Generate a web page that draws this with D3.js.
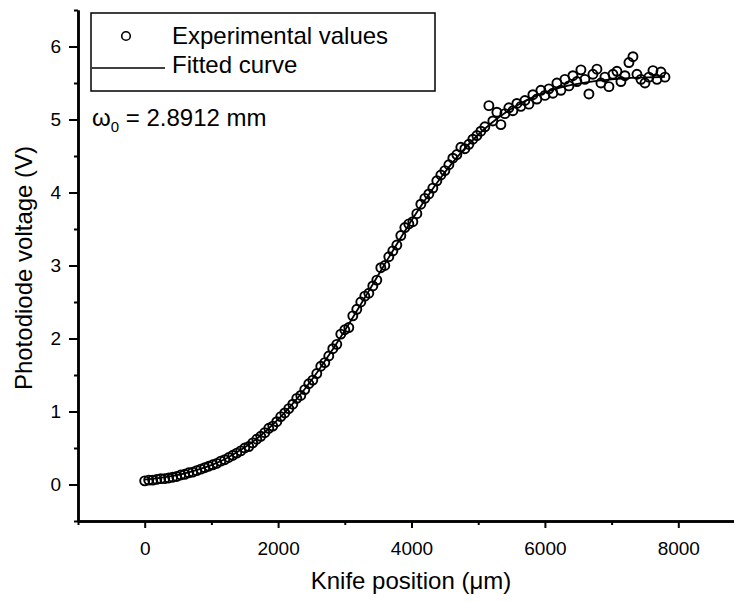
<!DOCTYPE html>
<html>
<head>
<meta charset="utf-8">
<script src="https://cdn.jsdelivr.net/npm/d3@7/dist/d3.min.js"></script>
<style>
  body { margin: 0; background: #fff; }
  svg { display: block; font-family: "Liberation Sans", Arial, sans-serif; }
</style>
</head>
<body>
<div id="chart"></div>
<script>
// ---- data ----
const xTicks = [0, 2000, 4000, 6000, 8000];
const xMinorTicks = [-1000, 1000, 3000, 5000, 7000, 9000];
const yTicks = [0, 1, 2, 3, 4, 5, 6];
const yMinorTicks = [-0.5, 0.5, 1.5, 2.5, 3.5, 4.5, 5.5, 6.5];

// experimental points: knife position (um), photodiode voltage (V)
const knifePos = [
  0, 60, 120, 180, 240, 300, 360, 420, 480, 540, 600, 660, 720, 780, 840, 900, 960, 1020, 1080, 1140,
  1200, 1260, 1320, 1380, 1440, 1500, 1560, 1620, 1680, 1740, 1800, 1860, 1920, 1980, 2040, 2100, 2160, 2220, 2280, 2340,
  2400, 2460, 2520, 2580, 2640, 2700, 2760, 2820, 2880, 2940, 3000, 3060, 3120, 3180, 3240, 3300, 3360, 3420, 3480, 3540,
  3600, 3660, 3720, 3780, 3840, 3900, 3960, 4020, 4080, 4140, 4200, 4260, 4320, 4380, 4440, 4500, 4560, 4620, 4680, 4740,
  4800, 4860, 4920, 4980, 5040, 5100, 5160, 5220, 5280, 5340, 5400, 5460, 5520, 5580, 5640, 5700, 5760, 5820, 5880, 5940,
  6000, 6060, 6120, 6180, 6240, 6300, 6360, 6420, 6480, 6540, 6600, 6660, 6720, 6780, 6840, 6900, 6960, 7020, 7080, 7140,
  7200, 7260, 7320, 7380, 7440, 7500, 7560, 7620, 7680, 7740, 7800
];
const voltage = [
  0.05, 0.06, 0.06, 0.07, 0.08, 0.08, 0.09, 0.10, 0.11, 0.13, 0.14, 0.16, 0.17, 0.19, 0.21, 0.23, 0.25, 0.27, 0.29, 0.32,
  0.34, 0.37, 0.40, 0.43, 0.46, 0.50, 0.52, 0.57, 0.62, 0.66, 0.71, 0.77, 0.80, 0.86, 0.93, 0.98, 1.04, 1.10, 1.18, 1.22,
  1.30, 1.38, 1.43, 1.52, 1.62, 1.67, 1.76, 1.86, 1.92, 2.06, 2.12, 2.15, 2.31, 2.40, 2.50, 2.58, 2.62, 2.72, 2.80, 2.97,
  3.00, 3.12, 3.20, 3.28, 3.41, 3.52, 3.57, 3.60, 3.71, 3.84, 3.92, 3.98, 4.06, 4.16, 4.24, 4.30, 4.38, 4.47, 4.52, 4.62,
  4.60, 4.66, 4.73, 4.78, 4.84, 4.90, 5.19, 4.98, 5.10, 4.93, 5.08, 5.16, 5.12, 5.22, 5.18, 5.26, 5.21, 5.34, 5.28, 5.40,
  5.33, 5.42, 5.36, 5.50, 5.40, 5.55, 5.46, 5.60, 5.52, 5.68, 5.55, 5.35, 5.62, 5.69, 5.50, 5.58, 5.45, 5.62, 5.66, 5.52,
  5.60, 5.78, 5.86, 5.62, 5.55, 5.50, 5.58, 5.67, 5.55, 5.65, 5.58
];

// fitted curve, sampled every 200 um
const fitPos = [
  0, 200, 400, 600, 800, 1000, 1200, 1400, 1600, 1800, 2000, 2200, 2400, 2600, 2800, 3000, 3200, 3400, 3600, 3800,
  4000, 4200, 4400, 4600, 4800, 5000, 5200, 5400, 5600, 5800, 6000, 6200, 6400, 6600, 6800, 7000, 7200, 7400, 7600, 7800
];
const fitVoltage = [
  0.066, 0.087, 0.115, 0.153, 0.204, 0.266, 0.346, 0.451, 0.572, 0.719, 0.891, 1.088, 1.309, 1.556, 1.824, 2.110, 2.408, 2.713, 3.020, 3.323,
  3.617, 3.894, 4.155, 4.392, 4.604, 4.791, 4.953, 5.090, 5.203, 5.297, 5.370, 5.428, 5.473, 5.506, 5.532, 5.551, 5.564, 5.573, 5.579, 5.583
];

const points = knifePos.map((x, i) => ({ x, v: voltage[i] }));
const fit = fitPos.map((x, i) => ({ x, v: fitVoltage[i] }));

// ---- layout ----
const width = 734, height = 602;
const margin = { top: 10, right: -11, bottom: 81, left: 78 };

const svg = d3.select("#chart").append("svg")
  .attr("width", width)
  .attr("height", height);

const x = d3.scaleLinear()
  .domain([-1000, 9000])
  .range([margin.left, width - margin.right]);

const y = d3.scaleLinear()
  .domain([-0.5, 6.5])
  .range([height - margin.bottom, margin.top]);

// fitted curve
const line = d3.line()
  .x(d => x(d.x))
  .y(d => y(d.v))
  .curve(d3.curveMonotoneX);

svg.append("path")
  .datum(fit)
  .attr("fill", "none")
  .attr("stroke", "#000")
  .attr("stroke-width", 1.8)
  .attr("d", line);

// experimental points
svg.append("g")
  .selectAll("circle")
  .data(points)
  .join("circle")
  .attr("cx", d => x(d.x))
  .attr("cy", d => y(d.v))
  .attr("r", 4.5)
  .attr("fill", "none")
  .attr("stroke", "#000")
  .attr("stroke-width", 1.9);

// ---- axes ----
const styleAxis = g => {
  g.select(".domain").attr("stroke-width", 2.5);
  g.selectAll(".tick line").attr("stroke-width", 2);
  g.selectAll(".tick text")
    .attr("fill", "#000")
    .style("font-size", "19px")
    .style("font-family", "'Liberation Sans', Arial, sans-serif");
};

const xAxisY = y(-0.5);
svg.append("g")
  .attr("transform", `translate(0,${xAxisY})`)
  .call(d3.axisBottom(x).tickValues(xMinorTicks).tickSize(4).tickSizeOuter(0).tickFormat(""))
  .call(styleAxis);

svg.append("g")
  .attr("transform", `translate(0,${xAxisY})`)
  .call(d3.axisBottom(x).tickValues(xTicks).tickSize(7).tickSizeOuter(0).tickPadding(14).tickFormat(d3.format("d")))
  .call(styleAxis);

const yAxisX = x(-1000);
svg.append("g")
  .attr("transform", `translate(${yAxisX},0)`)
  .call(d3.axisLeft(y).tickValues(yMinorTicks).tickSize(4).tickSizeOuter(0).tickFormat(""))
  .call(styleAxis);

svg.append("g")
  .attr("transform", `translate(${yAxisX},0)`)
  .call(d3.axisLeft(y).tickValues(yTicks).tickSize(9).tickSizeOuter(0).tickPadding(8).tickFormat(d3.format("d")))
  .call(styleAxis);

// axis titles
svg.append("text")
  .attr("x", 411)
  .attr("y", 589)
  .attr("text-anchor", "middle")
  .style("font-size", "24px")
  .text("Knife position (\u03bcm)");

svg.append("text")
  .attr("transform", "translate(32,268) rotate(-90)")
  .attr("text-anchor", "middle")
  .style("font-size", "24px")
  .text("Photodiode voltage (V)");

// ---- legend ----
const legend = svg.append("g");
legend.append("rect")
  .attr("x", 91).attr("y", 13)
  .attr("width", 344).attr("height", 78)
  .attr("fill", "#fff")
  .attr("stroke", "#000")
  .attr("stroke-width", 1.5);

legend.append("circle")
  .attr("cx", 126).attr("cy", 36).attr("r", 4.3)
  .attr("fill", "none").attr("stroke", "#000").attr("stroke-width", 1.6);

legend.append("text")
  .attr("x", 172).attr("y", 44)
  .style("font-size", "24px")
  .text("Experimental values");

legend.append("line")
  .attr("x1", 92).attr("x2", 165)
  .attr("y1", 68).attr("y2", 68)
  .attr("stroke", "#000").attr("stroke-width", 1.6);

legend.append("text")
  .attr("x", 172).attr("y", 73)
  .style("font-size", "24px")
  .text("Fitted curve");

// beam waist annotation
const note = svg.append("text")
  .attr("x", 92).attr("y", 126)
  .style("font-size", "24px");
note.append("tspan").text("\u03c9");
note.append("tspan").attr("dy", 6).style("font-size", "15px").text("0");
note.append("tspan").attr("dy", -6).text(" = 2.8912 mm");
</script>
</body>
</html>
